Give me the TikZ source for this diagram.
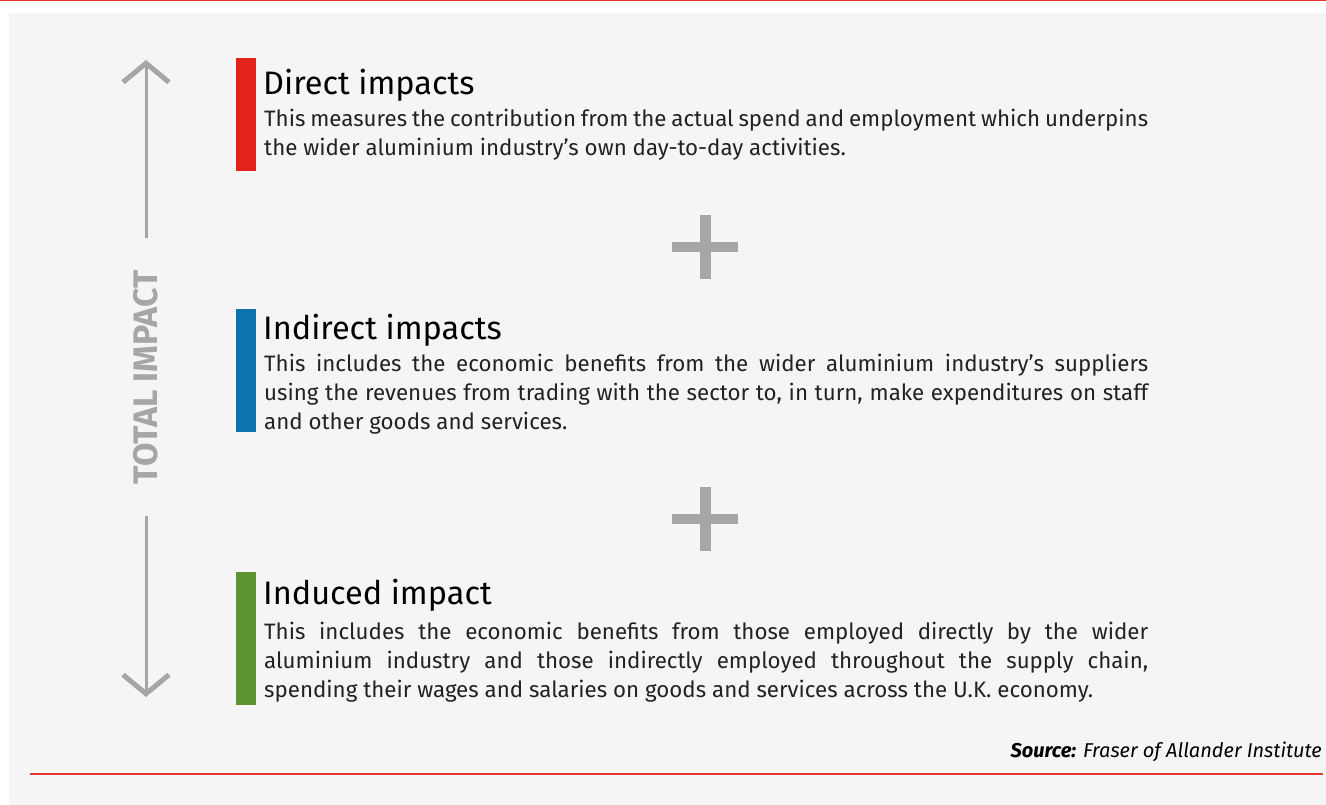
\documentclass[tikz,border=0pt]{standalone}
\usepackage{fontspec}
\setmainfont{Fira Sans}
\usetikzlibrary{arrows.meta}
\definecolor{panelgrey}{HTML}{F5F5F5}
\definecolor{rulered}{HTML}{E6362F}
\definecolor{arrowgrey}{HTML}{A6A6A6}
\definecolor{impred}{HTML}{E2231A}
\definecolor{impblue}{HTML}{0B73AF}
\definecolor{impgreen}{HTML}{5B9431}
\definecolor{bodytext}{HTML}{222222}

\begin{document}
\begin{tikzpicture}[x=1pt,y=-1pt,>={Straight Barb[length=19pt,width=46pt,line width=5pt]},
    every node/.style={inner sep=0pt, anchor=base west},
    head/.style={font=\fontsize{32.5}{38}\selectfont, text=black},
    body/.style={font=\fontsize{22.3}{29}\selectfont, text=bodytext, text width=884pt, align=justify},
    lbl/.style={font=\fontsize{34}{40}\selectfont\bfseries, text=arrowgrey, rotate=90, anchor=center, inner xsep=32pt},
    arr/.style={->, draw=arrowgrey, line width=3pt},
    plus/.style={fill=arrowgrey}]
                \useasboundingbox (0,0) rectangle (1326,805);
                \fill[white] (0,0) rectangle (1326,805);
                \fill[panelgrey] (9,13) rectangle (1326,805);
                \draw[rulered, line width=1.5pt] (0,0.75) -- (1326,0.75);
                \draw[rulered, line width=2pt] (30,774) -- (1323,774);

                % total impact
                \node[lbl] (tot) at (146,377) {TOTAL IMPACT};
                \coordinate (up) at (146,60);
                \coordinate (dn) at (146,697);
                \draw[arr] (tot) -- (up);
                \draw[arr] (tot) -- (dn);

                % direct
                \fill[impred] (236,58) rectangle (256,171);
                \node[head] (d) at (263,95) {Direct impacts};
                \node[body] (dt) at (264,127) {This measures the contribution from the actual spend and employment which underpins\linebreak the wider aluminium industry’s own day-to-day activities.};

                % indirect
                \fill[impblue] (236,309) rectangle (256,432);
                \node[head] (i) at (263,339) {Indirect impacts};
                \node[body] (it) at (264,371) {This includes the economic benefits from the wider aluminium industry’s suppliers\linebreak using the revenues from trading with the sector to, in turn, make expenditures on staff\linebreak and other goods and services.};

                % induced
                \fill[impgreen] (236,572) rectangle (256,705);
                \node[head] (n) at (263,604) {Induced impact};
                \node[body] (nt) at (264,639) {This includes the economic benefits from those employed directly by the wider\linebreak aluminium industry and those indirectly employed throughout the supply chain,\linebreak spending their wages and salaries on goods and services across the U.K. economy.};

                \foreach \y in {247,519} {
                    \fill[plus] (672,\y-5) rectangle (738,\y+5);
                    \fill[plus] (700,\y-32) rectangle (711,\y+32);
                }

                \node[anchor=base east, font=\fontsize{20}{24}\selectfont\itshape] (src) at (1322,757) {\textbf{Source:} Fraser of Allander Institute};
            \end{tikzpicture}
\end{document}
